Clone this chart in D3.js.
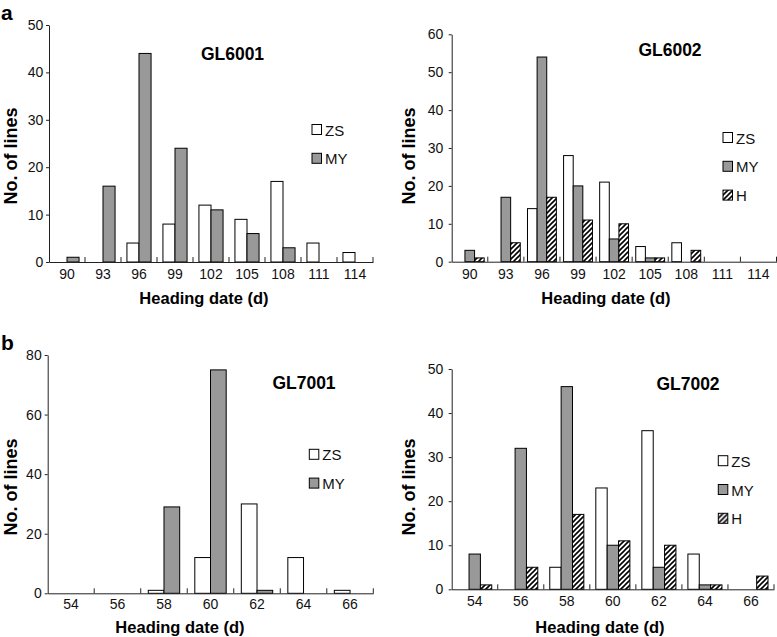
<!DOCTYPE html>
<html><head><meta charset="utf-8">
<script src="https://cdn.jsdelivr.net/npm/d3@7"></script>
<style>
html,body{margin:0;padding:0;background:#fff;}
svg{display:block;font-family:Arial,"Liberation Sans",Helvetica,sans-serif;}
</style></head>
<body>
<svg id="chart" width="777" height="637"></svg>
<script>
// ---- data ----
const catsGL600 = ["90","93","96","99","102","105","108","111","114"];
const catsGL700 = ["54","56","58","60","62","64","66"];
const seriesNames2 = ["ZS","MY"];
const seriesNames3 = ["ZS","MY","H"];

const gl6001ZS = [0,0,4,8,12,9,17,4,2];
const gl6001MY = [1,16,44,24,11,6,3,0,0];

const gl6002ZS = [0,0,14,28,21,4,5,0,0];
const gl6002MY = [3,17,54,20,6,1,0,0,0];
const gl6002H  = [1,5,17,11,10,1,3,0,0];

const gl7001ZS = [0,0,1,12,30,12,1];
const gl7001MY = [0,0,29,75,1,0,0];

const gl7002ZS = [0,0,5,23,36,8,0];
const gl7002MY = [8,32,46,10,5,1,0];
const gl7002H  = [1,5,17,11,10,1,3];

const yTicks6001 = [0,10,20,30,40,50];
const yTicks6002 = [0,10,20,30,40,50,60];
const yTicks7001 = [0,20,40,60,80];
const yTicks7002 = [0,10,20,30,40,50];

const xTitle = "Heading date (d)";
const yTitle = "No. of lines";

// ---- panels (layout separate from data) ----
const panels = [
  {name:"GL6001", letter:"a", cats:catsGL600, names:seriesNames2, values:[gl6001ZS,gl6001MY], ticks:yTicks6001,
   L:{x0:49,x1:373,y0:262,y1:25,group:0.67,padL:5.7,title:[232.5,53.5],legend:[312,124.5],ylab:[11,156],xlabY:275,xtitle:[204,298],letterPos:[1,20]}},
  {name:"GL6002", letter:null, cats:catsGL600, names:seriesNames3, values:[gl6002ZS,gl6002MY,gl6002H], ticks:yTicks6002,
   L:{x0:451.7,x1:776.5,y0:261.7,y1:34.3,group:0.8,padL:8.4,title:[670,49.5],legend:[723,132.5],ylab:[409,156],xlabY:275,xtitle:[606,298]}},
  {name:"GL7001", letter:"b", cats:catsGL700, names:seriesNames2, values:[gl7001ZS,gl7001MY], ticks:yTicks7001,
   L:{x0:47.7,x1:373.3,y0:593.3,y1:355,group:0.675,padL:6,title:[304,383],legend:[309.3,449.3],ylab:[11,487],xlabY:605,xtitle:[180,627],letterPos:[1,350]}},
  {name:"GL7002", letter:null, cats:catsGL700, names:seriesNames3, values:[gl7002ZS,gl7002MY,gl7002H], ticks:yTicks7002,
   L:{x0:451.7,x1:774,y0:589.3,y1:369,group:0.74,padL:8.4,title:[688,384],legend:[718.3,455.7],ylab:[409,487],xlabY:602,xtitle:[600,627]}}
];

const svg = d3.select("#chart");
const defs = svg.append("defs");
const hatch = defs.append("pattern").attr("id","hatch").attr("patternUnits","userSpaceOnUse")
  .attr("width",5).attr("height",5);
hatch.append("rect").attr("width",5).attr("height",5).attr("fill","#fff");
hatch.append("path").attr("d","M-1.25,1.25 L1.25,-1.25 M0,5 L5,0 M3.75,6.25 L6.25,3.75").attr("stroke","#000").attr("stroke-width",1.6);

const fills = {ZS:"#ffffff", MY:"#999999", H:"url(#hatch)"};
const axisColor = "#222";
const FONT = "Arial, 'Liberation Sans', sans-serif";

panels.forEach(p => {
  const L = p.L;
  const g = svg.append("g");
  const x = d3.scaleBand().domain(p.cats).range([L.x0, L.x1]).paddingInner(0).paddingOuter(0);
  const y = d3.scaleLinear().domain([0, d3.max(p.ticks)]).range([L.y0, L.y1]);
  const gpad = x.bandwidth()*(1-L.group)/2;
  const xs = d3.scaleBand().domain(p.names).range([gpad, x.bandwidth()-gpad]).padding(0);

  // bars
  p.names.forEach((nm, si) => {
    const vals = p.values[si];
    g.append("g").selectAll("rect").data(p.cats.map((c,i)=>({c, v:vals[i]})).filter(d=>d.v>0))
      .join("rect")
      .attr("x", d => x(d.c) + xs(nm))
      .attr("y", d => y(d.v))
      .attr("width", xs.bandwidth())
      .attr("height", d => y(0) - y(d.v))
      .attr("fill", fills[nm])
      .attr("stroke", "#000")
      .attr("stroke-width", 1);
  });

  // y axis
  const ya = g.append("g").attr("transform", `translate(${L.x0},0)`)
    .call(d3.axisLeft(y).tickValues(p.ticks).tickSize(3).tickPadding(L.padL-3).tickSizeOuter(0));
  ya.attr("font-size", 14).attr("font-family", FONT);
  ya.select(".domain").attr("stroke", axisColor);
  ya.selectAll(".tick line").attr("stroke", axisColor);
  ya.selectAll(".tick text").attr("fill","#111");

  // x axis: baseline + boundary ticks pointing up
  const xa = g.append("g").attr("transform", `translate(0,${L.y0})`)
    .call(d3.axisBottom(x).tickSize(0).tickPadding(L.xlabY - L.y0 - 5).tickSizeOuter(0));
  xa.attr("font-size", 14).attr("font-family", FONT);
  xa.select(".domain").attr("stroke", axisColor);
  xa.selectAll(".tick text").attr("fill","#111").attr("dy","0.32em").attr("y", L.xlabY - L.y0);
  xa.selectAll(".bnd").data(p.cats).join("line").attr("class","bnd")
    .attr("x1", d => x(d) + x.bandwidth()).attr("x2", d => x(d) + x.bandwidth())
    .attr("y1", 0).attr("y2", -5).attr("stroke", axisColor);

  // titles
  g.append("text").attr("x", L.title[0]).attr("y", L.title[1]).attr("text-anchor","middle")
    .attr("dominant-baseline","central").attr("font-weight","bold").attr("font-size",17.5).text(p.name);
  g.append("text").attr("x", L.xtitle[0]).attr("y", L.xtitle[1]).attr("text-anchor","middle")
    .attr("dominant-baseline","central").attr("font-weight","bold").attr("font-size",16.5).text(xTitle);
  g.append("text").attr("transform", `translate(${L.ylab[0]},${L.ylab[1]}) rotate(-90)`)
    .attr("text-anchor","middle").attr("dominant-baseline","central")
    .attr("font-weight","bold").attr("font-size",18).text(yTitle);
  if (p.letter) {
    g.append("text").attr("x", L.letterPos[0]).attr("y", L.letterPos[1])
      .attr("font-weight","bold").attr("font-size",21).text(p.letter);
  }

  // legend
  const lg = g.append("g").attr("transform", `translate(${L.legend[0]},${L.legend[1]})`);
  p.names.forEach((nm, i) => {
    const row = lg.append("g").attr("transform", `translate(0,${i*28.8})`);
    row.append("rect").attr("x",0).attr("y",0).attr("width",9.5).attr("height",10)
      .attr("fill", fills[nm]).attr("stroke","#000").attr("stroke-width",1);
    row.append("text").attr("x",13).attr("y",5.5).attr("dominant-baseline","central")
      .attr("font-size",15).attr("fill","#111").text(nm);
  });
});
</script>
</body></html>
